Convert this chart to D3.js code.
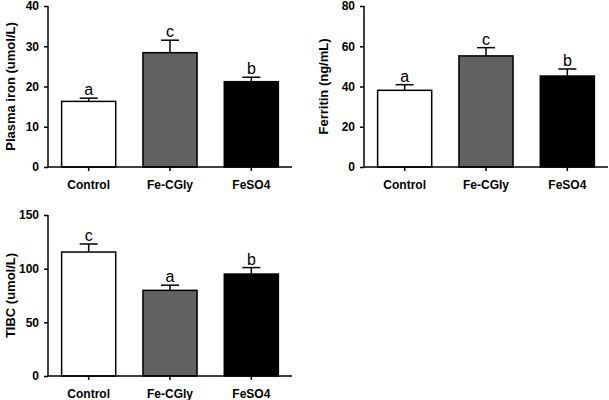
<!DOCTYPE html>
<html><head><meta charset="utf-8">
<script src="https://cdn.jsdelivr.net/npm/d3@7"></script>
<style>body{margin:0;background:#fff}svg{display:block}</style>
</head><body>
<svg id="c" width="609" height="400"></svg>
<script>
const categories = ["Control", "Fe-CGly", "FeSO4"];
const barColors = ["#ffffff", "#616161", "#000000"];

const ironMeans = [16.3, 28.4, 21.2];
const ironErrors = [0.8, 3.1, 1.1];
const ironLetters = ["a", "c", "b"];
const ironTicks = [0, 10, 20, 30, 40];

const ferritinMeans = [38.1, 55.2, 45.2];
const ferritinErrors = [2.8, 4.1, 3.5];
const ferritinLetters = ["a", "c", "b"];
const ferritinTicks = [0, 20, 40, 60, 80];

const tibcMeans = [115.5, 79.8, 95.0];
const tibcErrors = [7.5, 4.8, 6.0];
const tibcLetters = ["c", "a", "b"];
const tibcTicks = [0, 50, 100, 150];

const svg = d3.select("#c");
const font = "Liberation Sans, Arial, sans-serif";

function panel(opts) {
  const {left, right, top, bottom, means, errors, letters, ticks, title, titleOffset} = opts;
  const g = svg.append("g");
  const x = d3.scaleBand().domain(categories).range([left, right]).paddingInner(0.335).paddingOuter(0.1675);
  const y = d3.scaleLinear().domain([0, ticks[ticks.length - 1]]).range([bottom, top]);

  g.selectAll("rect.bar").data(categories).join("rect")
    .attr("x", d => x(d)).attr("width", x.bandwidth())
    .attr("y", (d, i) => y(means[i])).attr("height", (d, i) => y(0) - y(means[i]))
    .attr("fill", (d, i) => barColors[i]).attr("stroke", "#000").attr("stroke-width", 1.5);

  const cap = 9;
  categories.forEach((d, i) => {
    const cx = x(d) + x.bandwidth() / 2;
    g.append("line").attr("x1", cx).attr("x2", cx)
      .attr("y1", y(means[i])).attr("y2", y(means[i] + errors[i]))
      .attr("stroke", "#000").attr("stroke-width", 1.5);
    g.append("line").attr("x1", cx - cap).attr("x2", cx + cap)
      .attr("y1", y(means[i] + errors[i])).attr("y2", y(means[i] + errors[i]))
      .attr("stroke", "#000").attr("stroke-width", 1.5);
    g.append("text").attr("x", cx).attr("y", y(means[i] + errors[i]) - 3)
      .attr("text-anchor", "middle").attr("font-family", font).attr("font-size", 16)
      .attr("fill", "#000").text(letters[i]);
  });

  const ya = g.append("g").attr("transform", `translate(${left},0)`)
    .call(d3.axisLeft(y).tickValues(ticks).tickSize(4).tickPadding(5).tickFormat(d3.format("d")));
  ya.select(".domain").attr("stroke-width", 1.5).attr("d", `M-0,${y(ticks[ticks.length-1])}V${bottom}`);
  ya.selectAll(".tick line").attr("stroke-width", 1.5);
  ya.selectAll("text").attr("font-family", font).attr("font-size", 12).attr("font-weight", "bold").attr("fill", "#000");

  const xa = g.append("g").attr("transform", `translate(0,${bottom})`)
    .call(d3.axisBottom(x).tickSize(4).tickPadding(9));
  xa.select(".domain").attr("stroke-width", 1.5).attr("d", `M${left},0H${right}`);
  xa.selectAll(".tick line").attr("stroke-width", 1.5);
  xa.selectAll("text").attr("font-family", font).attr("font-size", 12).attr("font-weight", "bold").attr("fill", "#000");

  g.append("text")
    .attr("transform", `translate(${left - titleOffset},${(top + bottom) / 2}) rotate(-90)`)
    .attr("text-anchor", "middle").attr("dy", "0.35em")
    .attr("font-family", font).attr("font-size", 13).attr("font-weight", "bold").attr("fill", "#000")
    .text(title);
}

panel({left: 48, right: 292, top: 6, bottom: 167, means: ironMeans, errors: ironErrors,
  letters: ironLetters, ticks: ironTicks, title: "Plasma iron (umol/L)", titleOffset: 38});
panel({left: 364, right: 608, top: 6, bottom: 167, means: ferritinMeans, errors: ferritinErrors,
  letters: ferritinLetters, ticks: ferritinTicks, title: "Ferritin (ng/mL)", titleOffset: 41});
panel({left: 48, right: 292, top: 215, bottom: 376, means: tibcMeans, errors: tibcErrors,
  letters: tibcLetters, ticks: tibcTicks, title: "TIBC (umol/L)", titleOffset: 38});
</script>
</body></html>
